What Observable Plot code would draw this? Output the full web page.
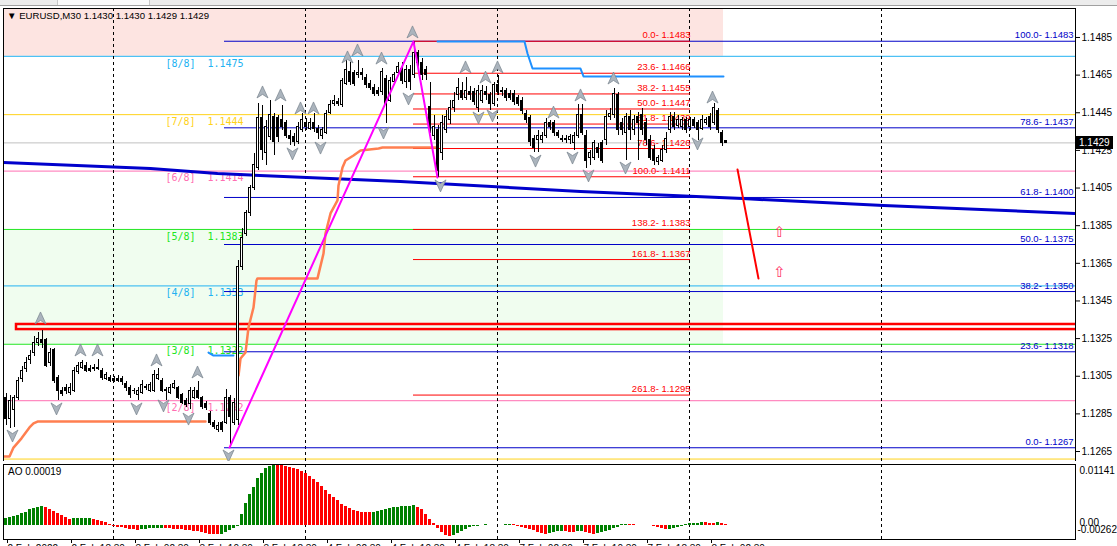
<!DOCTYPE html>
<html><head><meta charset="utf-8">
<script src="https://cdn.jsdelivr.net/npm/d3@7"></script>
<script src="https://cdn.jsdelivr.net/npm/@observablehq/plot@0.6"></script>
<style>
html,body{margin:0;padding:0;background:#fff;}
body{width:1117px;height:546px;overflow:hidden;position:relative;font-family:"Liberation Sans",Arial,sans-serif;}
#strip{position:absolute;left:0;top:0;width:1117px;height:5px;background:#ececec;border-bottom:1px solid #a0a0a0;}
#strip .tab{position:absolute;left:57px;top:0;width:91px;height:5px;background:#fafafa;border-left:1px solid #c8c8c8;border-right:1px solid #c8c8c8}
#main{position:absolute;left:0;top:0;}
#ao{position:absolute;left:0;top:461px;}
.lbl{position:absolute;font-size:10px;color:#000;white-space:pre;line-height:12px}
#hdr{font-size:9.6px}
#bid{position:absolute;left:1076px;top:136px;width:34px;height:13px;background:#000;color:#fff;font-size:10px;line-height:13px;padding-left:3px}
</style></head><body>
<div id="strip"><div class="tab"></div></div>
<div id="main"></div>
<div id="ao"></div>
<div class="lbl" id="hdr" style="left:7px;top:10px"></div>
<div class="lbl" id="aolbl" style="left:8px;top:466px"></div>
<div id="bid"></div>
<script>
// ---------------- data ----------------
const symbolName = "EURUSD,M30";
const opens = [
1.12937,1.12825,1.12868,1.12937,1.13038,1.13091,1.13134,1.13171,1.13224,1.13240,
1.13240,1.13118,1.13187,1.13043,1.12974,1.12985,1.12963,1.12974,1.13070,1.13096,
1.13107,1.13091,1.13096,1.13096,1.13080,1.13038,1.13043,1.13038,1.13038,1.13038,
1.13011,1.12985,1.12974,1.12948,1.12963,1.12995,1.12974,1.12974,1.13038,1.13027,
1.12979,1.12963,1.12990,1.12985,1.12948,1.12921,1.12905,1.12937,1.12974,1.12932,
1.12905,1.12852,1.12804,1.12762,1.12799,1.12804,1.12937,1.12804,1.12815,1.13628,
1.13808,1.13915,1.14048,1.14159,1.14420,1.14234,1.14319,1.14425,1.14420,1.14409,
1.14393,1.14329,1.14319,1.14292,1.14356,1.14398,1.14366,1.14398,1.14366,1.14329,
1.14345,1.14451,1.14499,1.14505,1.14489,1.14605,1.14664,1.14659,1.14648,1.14659,
1.14637,1.14605,1.14584,1.14568,1.14558,1.14632,1.14515,1.14611,1.14659,1.14685,
1.14611,1.14675,1.14648,1.14765,1.14712,1.14675,1.14478,1.14329,1.14356,1.14234,
1.14356,1.14409,1.14473,1.14542,1.14568,1.14531,1.14558,1.14558,1.14473,1.14515,
1.14558,1.14542,1.14499,1.14595,1.14568,1.14568,1.14552,1.14552,1.14526,1.14515,
1.14446,1.14420,1.14313,1.14303,1.14303,1.14329,1.14393,1.14393,1.14340,1.14313,
1.14313,1.14303,1.14287,1.14329,1.14436,1.14329,1.14207,1.14212,1.14265,1.14287,
1.14303,1.14425,1.14436,1.14542,1.14393,1.14340,1.14425,1.14356,1.14425,1.14436,
1.14393,1.14303,1.14250,1.14186,1.14196,1.14250,1.14356,1.14425,1.14382,1.14372,
1.14409,1.14372,1.14409,1.14393,1.14366,1.14393,1.14425,1.14398,1.14462,1.14340,
1.14300];
const highs = [
1.12958,1.12948,1.12948,1.13043,1.13102,1.13149,1.13187,1.13261,1.13282,1.13293,
1.13250,1.13197,1.13197,1.13054,1.12990,1.13006,1.13011,1.13096,1.13123,1.13134,
1.13123,1.13107,1.13112,1.13139,1.13091,1.13070,1.13054,1.13049,1.13054,1.13049,
1.13022,1.13001,1.12985,1.12990,1.13027,1.13006,1.13017,1.13080,1.13091,1.13038,
1.12990,1.13006,1.13027,1.12995,1.12958,1.12932,1.12990,1.12990,1.13022,1.12942,
1.12916,1.12863,1.12815,1.12804,1.12809,1.12979,1.12948,1.12932,1.13665,1.13835,
1.13931,1.14064,1.14234,1.14499,1.14489,1.14409,1.14515,1.14446,1.14436,1.14489,
1.14409,1.14356,1.14340,1.14398,1.14446,1.14420,1.14420,1.14446,1.14382,1.14372,
1.14462,1.14515,1.14542,1.14526,1.14632,1.14728,1.14717,1.14675,1.14728,1.14685,
1.14653,1.14621,1.14600,1.14584,1.14685,1.14648,1.14637,1.14664,1.14717,1.14717,
1.14701,1.14701,1.14829,1.14781,1.14738,1.14696,1.14611,1.14436,1.14382,1.14436,
1.14462,1.14515,1.14558,1.14632,1.14611,1.14637,1.14589,1.14579,1.14595,1.14595,
1.14589,1.14558,1.14611,1.14648,1.14584,1.14579,1.14568,1.14568,1.14542,1.14531,
1.14462,1.14436,1.14329,1.14356,1.14345,1.14420,1.14409,1.14409,1.14356,1.14329,
1.14329,1.14335,1.14345,1.14494,1.14494,1.14356,1.14250,1.14303,1.14287,1.14303,
1.14462,1.14473,1.14579,1.14558,1.14420,1.14446,1.14462,1.14436,1.14451,1.14473,
1.14420,1.14329,1.14276,1.14223,1.14276,1.14345,1.14451,1.14451,1.14436,1.14425,
1.14425,1.14425,1.14425,1.14409,1.14436,1.14425,1.14446,1.14499,1.14473,1.14356,
1.14300];
const lows = [
1.12788,1.12772,1.12778,1.12921,1.13017,1.13070,1.13112,1.13155,1.13208,1.13197,
1.13096,1.13102,1.13011,1.12921,1.12942,1.12953,1.12948,1.12963,1.13059,1.13086,
1.13070,1.13070,1.13075,1.13080,1.13027,1.13027,1.13017,1.13017,1.13017,1.13001,
1.12969,1.12932,1.12953,1.12921,1.12953,1.12974,1.12963,1.12963,1.13027,1.12963,
1.12921,1.12953,1.12979,1.12926,1.12900,1.12884,1.12873,1.12926,1.12926,1.12873,
1.12868,1.12788,1.12767,1.12751,1.12751,1.12793,1.12671,1.12788,1.12788,1.13612,
1.13792,1.13899,1.14037,1.14143,1.14196,1.14170,1.14303,1.14223,1.14292,1.14356,
1.14313,1.14276,1.14271,1.14281,1.14345,1.14356,1.14356,1.14345,1.14308,1.14308,
1.14335,1.14441,1.14483,1.14483,1.14478,1.14595,1.14595,1.14589,1.14632,1.14621,
1.14579,1.14568,1.14536,1.14536,1.14542,1.14393,1.14505,1.14595,1.14643,1.14600,
1.14579,1.14568,1.14632,1.14691,1.14621,1.14621,1.14340,1.14303,1.14106,1.14196,
1.14340,1.14388,1.14451,1.14515,1.14515,1.14515,1.14515,1.14489,1.14451,1.14499,
1.14515,1.14462,1.14483,1.14542,1.14536,1.14510,1.14515,1.14489,1.14483,1.14441,
1.14393,1.14271,1.14239,1.14239,1.14287,1.14313,1.14356,1.14324,1.14313,1.14292,
1.14287,1.14281,1.14250,1.14313,1.14329,1.14154,1.14170,1.14196,1.14207,1.14180,
1.14276,1.14409,1.14420,1.14329,1.14329,1.14196,1.14303,1.14329,1.14196,1.14329,
1.14276,1.14196,1.14170,1.14170,1.14186,1.14234,1.14340,1.14356,1.14366,1.14356,
1.14340,1.14356,1.14366,1.14303,1.14356,1.14382,1.14356,1.14382,1.14340,1.14271,
1.14290];
const closes = [
1.12825,1.12921,1.12932,1.13027,1.13080,1.13123,1.13160,1.13229,1.13250,1.13224,
1.13107,1.13176,1.13027,1.12974,1.12958,1.12969,1.12990,1.13080,1.13107,1.13118,
1.13080,1.13080,1.13091,1.13086,1.13043,1.13059,1.13027,1.13027,1.13027,1.13017,
1.12985,1.12948,1.12969,1.12974,1.13001,1.12985,1.13001,1.13059,1.13054,1.12974,
1.12969,1.12990,1.13011,1.12937,1.12910,1.12895,1.12974,1.12974,1.12937,1.12884,
1.12879,1.12799,1.12778,1.12788,1.12762,1.12932,1.12831,1.12910,1.13628,1.13787,
1.13915,1.14048,1.14170,1.14420,1.14250,1.14372,1.14436,1.14292,1.14319,1.14372,
1.14329,1.14313,1.14292,1.14372,1.14409,1.14372,1.14398,1.14366,1.14345,1.14356,
1.14446,1.14489,1.14515,1.14499,1.14621,1.14675,1.14611,1.14605,1.14659,1.14648,
1.14595,1.14584,1.14552,1.14552,1.14664,1.14499,1.14621,1.14648,1.14691,1.14621,
1.14675,1.14611,1.14770,1.14712,1.14648,1.14648,1.14356,1.14372,1.14143,1.14393,
1.14425,1.14473,1.14515,1.14579,1.14531,1.14568,1.14542,1.14505,1.14568,1.14568,
1.14542,1.14499,1.14595,1.14558,1.14558,1.14526,1.14531,1.14505,1.14499,1.14462,
1.14409,1.14292,1.14265,1.14329,1.14329,1.14393,1.14372,1.14340,1.14329,1.14303,
1.14303,1.14319,1.14329,1.14436,1.14340,1.14196,1.14234,1.14287,1.14234,1.14196,
1.14425,1.14446,1.14552,1.14356,1.14356,1.14425,1.14356,1.14409,1.14393,1.14356,
1.14303,1.14212,1.14196,1.14207,1.14250,1.14313,1.14425,1.14372,1.14409,1.14409,
1.14356,1.14409,1.14382,1.14356,1.14409,1.14409,1.14372,1.14473,1.14356,1.14287,
1.14290];
const aoValues = [
0.00140,0.00150,0.00168,0.00190,0.00220,0.00250,0.00290,0.00320,0.00340,0.00352,
0.00330,0.00300,0.00260,0.00220,0.00190,0.00150,0.00120,0.00122,0.00125,0.00130,
0.00133,0.00135,0.00120,0.00100,0.00080,0.00050,0.00020,-0.00010,-0.00030,-0.00045,
-0.00060,-0.00070,-0.00080,-0.00085,-0.00075,-0.00070,-0.00065,-0.00060,-0.00058,-0.00055,
-0.00060,-0.00065,-0.00070,-0.00075,-0.00080,-0.00090,-0.00100,-0.00110,-0.00120,-0.00135,
-0.00150,-0.00160,-0.00165,-0.00170,-0.00160,-0.00130,-0.00100,-0.00060,-0.00020,0.00200,
0.00420,0.00580,0.00720,0.00870,0.00980,0.01060,0.01110,0.01141,0.01130,0.01120,
0.01110,0.01090,0.01070,0.01040,0.01010,0.00970,0.00920,0.00860,0.00800,0.00730,
0.00660,0.00580,0.00520,0.00460,0.00400,0.00350,0.00310,0.00280,0.00260,0.00250,
0.00245,0.00240,0.00250,0.00260,0.00280,0.00300,0.00310,0.00330,0.00340,0.00350,
0.00360,0.00362,0.00365,0.00340,0.00290,0.00210,0.00120,0.00030,-0.00060,-0.00140,
-0.00190,-0.00200,-0.00180,-0.00150,-0.00110,-0.00070,-0.00040,-0.00020,-0.00010,0.00005,
0.00010,0.00008,0.00005,-0.00005,0.00000,0.00010,0.00015,0.00010,-0.00010,-0.00030,
-0.00050,-0.00070,-0.00100,-0.00130,-0.00150,-0.00160,-0.00150,-0.00130,-0.00120,-0.00115,
-0.00120,-0.00125,-0.00130,-0.00120,-0.00110,-0.00130,-0.00150,-0.00160,-0.00150,-0.00130,
-0.00120,-0.00090,-0.00060,-0.00030,0.00010,0.00020,0.00015,0.00010,0.00000,-0.00005,
0.00005,0.00000,-0.00020,-0.00040,-0.00060,-0.00080,-0.00070,-0.00050,-0.00030,-0.00010,
0.00010,0.00030,0.00040,0.00045,0.00050,0.00048,0.00046,0.00044,0.00050,0.00040,
0.00019];

const priceTicks = [1.1485,1.1465,1.1445,1.1425,1.1405,1.1385,1.1365,1.1345,1.1325,1.1305,1.1285,1.1265];
const aoTicks = [0.01141, 0, -0.00262];
const aoTickLabels = ["0.01141", "0.00", "-0.00262"];
const timeTickBars = [0,16,32,48,64,80,96,112,128,144,160,176];
const timeTickLabels = ["2 Feb 2022","2 Feb 18:30","3 Feb 02:30","3 Feb 10:30","3 Feb 18:30","4 Feb 02:30","4 Feb 10:30","4 Feb 18:30","7 Feb 02:30","7 Feb 10:30","7 Feb 18:30","8 Feb 02:30"];
const separatorBars = [27, 75, 123, 171, 219];

const murreyNames = ["[8/8]","[7/8]","[6/8]","[5/8]","[4/8]","[3/8]","[2/8]","[1/8]"];
const murreyPrices = [1.1475,1.1444,1.1414,1.1383,1.1353,1.1322,1.1292,1.1261];
const murreyLabelBar = 40, murreyValueBar = 50.5;
const zoneEndBar = 179.5;

const fibRedLevels = ["0.0","23.6","38.2","50.0","61.8","78.6","100.0","138.2","161.8","261.8"];
const fibRedPrices = [1.1483,1.1466,1.1455,1.1447,1.1439,1.1426,1.1411,1.1383,1.1367,1.1295];
const fibRedSpan = [102, 171.25];
const fibBlueLevels = ["100.0","78.6","61.8","50.0","38.2","23.6","0.0"];
const fibBluePrices = [1.1483,1.1437,1.1400,1.1375,1.1350,1.1318,1.1267];
const fibBlueSpan = [54.75, 267];

const supportBand = [1.13298, 1.13325];
const supportStartBar = 2.75;

const maBars = [-0.5, 36.25, 53, 69.5, 98.75, 143.75, 184.25, 219.5, 267.5];
const maPrices = [1.14186, 1.14154, 1.14127, 1.14111, 1.14085, 1.14032, 1.13994, 1.13957, 1.13915];

const trailBars = [-0.5, 1, 2, 4, 6, 7, 8, 50, 58.25, 58.75, 60, 60.75, 62, 62.75, 63, 78, 79.5, 80, 81.25, 83, 83.25, 84.25, 85, 87, 88.75, 93.25, 94.25, 108];
const trailPrices = [1.12624, 1.12624, 1.12671, 1.12720, 1.12778, 1.12799, 1.12809, 1.12809, 1.13054, 1.13144, 1.13176, 1.13309, 1.13415, 1.13559, 1.13570, 1.13570, 1.13702, 1.13808, 1.13915, 1.13984, 1.14064, 1.14159, 1.14196, 1.14223, 1.14250, 1.14260, 1.14265, 1.14265];
const trailSegment = [1,1,1,1,1,1,1,1,2,2,2,2,2,2,2,2,2,2,2,2,2,2,2,2,2,2,2,2];

const stopBars = [108, 129.75, 130.5, 131.75, 143.75, 144.5, 179.5, 50.75, 52, 57];
const stopPrices = [1.14829, 1.14829, 1.14765, 1.14685, 1.14685, 1.14643, 1.14643, 1.13176, 1.13160, 1.13160];
const stopSegment = [1,1,1,1,1,1,1,2,2,2];

const zigzagBars = [56, 102, 108];
const zigzagPrices = [1.12671, 1.14829, 1.14106];

const fracUpBars = [8.75,18.75,23,37.75,48,64.25,68.75,73.75,77,85.5,88,94,101.75,115,120,123,137,143.75,152,176.75];
const fracUpPrices = [1.13357,1.13187,1.13187,1.13134,1.13070,1.14558,1.14542,1.14473,1.14473,1.14744,1.14781,1.14738,1.14877,1.14691,1.14637,1.14691,1.14451,1.14542,1.14632,1.14531];
const fracDownBars = [1.75,12.75,32.75,39.5,45.75,55.75,71.75,78.75,94.5,100.75,108.75,118.25,121.75,132.5,141.75,145.75,155,173];
const fracDownPrices = [1.12735,1.12879,1.12879,1.12895,1.12825,1.12629,1.14234,1.14265,1.14345,1.14526,1.14064,1.14425,1.14436,1.14196,1.14212,1.14117,1.14159,1.14287];

const trendBars = [183, 188.25];
const trendPrices = [1.14149, 1.13569];
const signalBars = [193.5, 193.5];
const signalPrices = [1.13814, 1.13601];

const xDomain = [-0.5, 267.5];
const yDomain = [1.12597, 1.15004];
const aoDomain = [-0.00262, 0.01141];

// ---------------- styles ----------------
const murreyColors = ["#22b2f2","#ffd21a","#ff6fb2","#22e622","#22b2f2","#22e622","#ff6fb2","#ffd21a"];
const sans = "Liberation Sans, Arial, sans-serif";
const mono = "DejaVu Sans Mono, monospace";

// ---------------- build ----------------
const bars = opens.map((o, i) => ({i, o, h: highs[i], l: lows[i], c: closes[i], col: closes[i] >= o ? "#ffffff" : "#000000"}));
const last = bars[bars.length - 1];
const zip = (xs, ys, extra) => xs.map((x, k) => ({i: x, p: ys[k], s: extra ? extra[k] : 0}));
const murrey = murreyNames.map((n, k) => ({n, p: murreyPrices[k], col: murreyColors[k]}));
const murreyShown = murrey.filter(d => d.p > yDomain[0] + 0.0004);
const fibRed = fibRedLevels.map((lv, k) => ({t: `${lv}- ${fibRedPrices[k].toFixed(4)}`, p: fibRedPrices[k]}));
const fibBlue = fibBlueLevels.map((lv, k) => ({t: `${lv}- ${fibBluePrices[k].toFixed(4)}`, p: fibBluePrices[k]}));
const ao = aoValues.map((v, i) => ({i, v, col: (i === 0 || v >= aoValues[i - 1]) ? "#008000" : "#ff0000"}));

const arrowUp = {draw(ctx, size) { const s = Math.sqrt(size / Math.PI); ctx.moveTo(0, -s); ctx.lineTo(s * 0.85, s * 0.85); ctx.lineTo(0, s * 0.3); ctx.lineTo(-s * 0.85, s * 0.85); ctx.closePath(); }};
const arrowDown = {draw(ctx, size) { const s = Math.sqrt(size / Math.PI); ctx.moveTo(0, s); ctx.lineTo(s * 0.85, -s * 0.85); ctx.lineTo(0, -s * 0.3); ctx.lineTo(-s * 0.85, -s * 0.85); ctx.closePath(); }};

const mainPlot = Plot.plot({
  width: 1117, height: 461,
  marginTop: 8, marginBottom: 0, marginLeft: 3, marginRight: 42,
  x: {domain: xDomain, axis: null},
  y: {domain: yDomain, axis: null},
  color: {type: "identity"},
  style: {background: "transparent", fontFamily: sans, fontSize: "10px"},
  marks: [
    Plot.rect([0], {x1: xDomain[0], x2: zoneEndBar, y1: murreyPrices[0], y2: yDomain[1] + 0.001, fill: "#fde4e1", clip: true}),
    Plot.rect([0], {x1: xDomain[0], x2: zoneEndBar, y1: murreyPrices[5], y2: murreyPrices[3], fill: "#f0fdef"}),
    Plot.ruleY(murrey, {y: "p", stroke: "col", strokeWidth: 1}),
    Plot.text(murreyShown, {x: murreyLabelBar, y: "p", text: "n", fill: "col", textAnchor: "start", dy: 7, fontFamily: mono, fontSize: 10}),
    Plot.text(murreyShown, {x: murreyValueBar, y: "p", text: d => d.p.toFixed(4), fill: "col", textAnchor: "start", dy: 7, fontFamily: mono, fontSize: 10}),
    Plot.ruleY([last.c], {stroke: "#c0c0c0"}),
    Plot.ruleX(separatorBars, {x: d => d, stroke: "#000", strokeDasharray: "3,3"}),
    Plot.ruleY(fibBlue, {y: "p", x1: fibBlueSpan[0], x2: xDomain[1], stroke: "#0000c8"}),
    Plot.text(fibBlue, {x: fibBlueSpan[1], y: "p", text: "t", fill: "#0000c8", textAnchor: "end", dy: -6, fontFamily: sans, fontSize: 9.5}),
    Plot.ruleY(fibRed, {y: "p", x1: fibRedSpan[0], x2: fibRedSpan[1], stroke: "#ff0000"}),
    Plot.text(fibRed, {x: fibRedSpan[1], y: "p", text: "t", fill: "#ff0000", textAnchor: "end", dy: -6, fontFamily: sans, fontSize: 9.5}),
    Plot.rect([0], {x1: supportStartBar, x2: xDomain[1] + 5, y1: supportBand[0], y2: supportBand[1], fill: "none", stroke: "#ff0000", strokeWidth: 2.5, clip: true}),
    Plot.line(zip(maBars, maPrices), {x: "i", y: "p", stroke: "#0000cc", strokeWidth: 3, clip: true}),
    Plot.line(zip(trailBars, trailPrices, trailSegment), {x: "i", y: "p", z: "s", stroke: "#ff7f50", strokeWidth: 2.5, clip: true}),
    Plot.line(zip(stopBars, stopPrices, stopSegment), {x: "i", y: "p", z: "s", stroke: "#1e90ff", strokeWidth: 2}),
    Plot.ruleX(bars, {x: d => d.i + 0.125, y1: "l", y2: "h", stroke: "#000", strokeWidth: 1, shapeRendering: "crispEdges"}),
    Plot.rect(bars, {x1: d => d.i - 0.125, x2: d => d.i + 0.375, y1: "o", y2: "c", fill: "col", stroke: "#000", strokeWidth: 1, shapeRendering: "crispEdges"}),
    Plot.line(zip(zigzagBars, zigzagPrices), {x: "i", y: "p", stroke: "#ff00ff", strokeWidth: 2}),
    Plot.dot(zip(fracUpBars, fracUpPrices), {x: "i", y: "p", symbol: arrowUp, r: 6.5, fill: "#abb4bd", stroke: "#77828d", strokeWidth: 0.7}),
    Plot.dot(zip(fracDownBars, fracDownPrices), {x: "i", y: "p", symbol: arrowDown, r: 6.5, fill: "#abb4bd", stroke: "#77828d", strokeWidth: 0.7}),
    Plot.line(zip(trendBars, trendPrices), {x: "i", y: "p", stroke: "#ff0000", strokeWidth: 2}),
    Plot.text(zip(signalBars, signalPrices), {x: "i", y: "p", text: () => "⇧", fill: "#ff3366", fontSize: 15, fontFamily: "DejaVu Sans"}),
    Plot.frame({stroke: "#000"}),
    Plot.axisY(priceTicks, {anchor: "right", tickSize: 4, tickPadding: 2, tickFormat: d => d.toFixed(4), fontSize: 10, fontFamily: sans, fill: "#000"})
  ]
});
document.getElementById("main").appendChild(mainPlot);

const labelMap = new Map(timeTickBars.map((b, k) => [b, timeTickLabels[k]]));
const aoPlot = Plot.plot({
  width: 1117, height: 100,
  marginTop: 3, marginBottom: 22, marginLeft: 3, marginRight: 42,
  x: {domain: xDomain, axis: null},
  y: {domain: aoDomain, axis: null},
  color: {type: "identity"},
  style: {background: "transparent", fontFamily: sans, fontSize: "10px"},
  marks: [
    Plot.ruleX(separatorBars, {x: d => d, stroke: "#000", strokeDasharray: "3,3"}),
    Plot.rect(ao, {x1: d => d.i - 0.25, x2: d => d.i + 0.5, y1: 0, y2: "v", fill: "col", shapeRendering: "crispEdges"}),
    Plot.frame({stroke: "#000"}),
    Plot.axisX(timeTickBars, {anchor: "bottom", tickSize: 4, tickPadding: 1, tickFormat: d => labelMap.get(d), textAnchor: "start", dx: 2, fontSize: 10, fontFamily: sans}),
    Plot.text([{v: aoTicks[0], t: aoTickLabels[0]}], {x: xDomain[1], y: "v", text: "t", textAnchor: "start", dx: 4, dy: 6, fontSize: 10, fontFamily: sans}),
    Plot.text([{v: aoTicks[1], t: aoTickLabels[1]}], {x: xDomain[1], y: "v", text: "t", textAnchor: "start", dx: 4, dy: -3, fontSize: 10, fontFamily: sans}),
    Plot.text([{v: aoTicks[2], t: aoTickLabels[2]}], {x: xDomain[1], y: "v", text: "t", textAnchor: "start", dx: 2, dy: -10, fontSize: 10, fontFamily: sans})
  ]
});
document.getElementById("ao").appendChild(aoPlot);

document.getElementById("hdr").textContent = `▼ ${symbolName} ${last.o.toFixed(4)} ${last.h.toFixed(4)} ${last.l.toFixed(4)} ${last.c.toFixed(4)}`;
document.getElementById("aolbl").textContent = `AO ${aoValues[aoValues.length - 1].toFixed(5)}`;
document.getElementById("bid").textContent = last.c.toFixed(4);
</script>
</body></html>
